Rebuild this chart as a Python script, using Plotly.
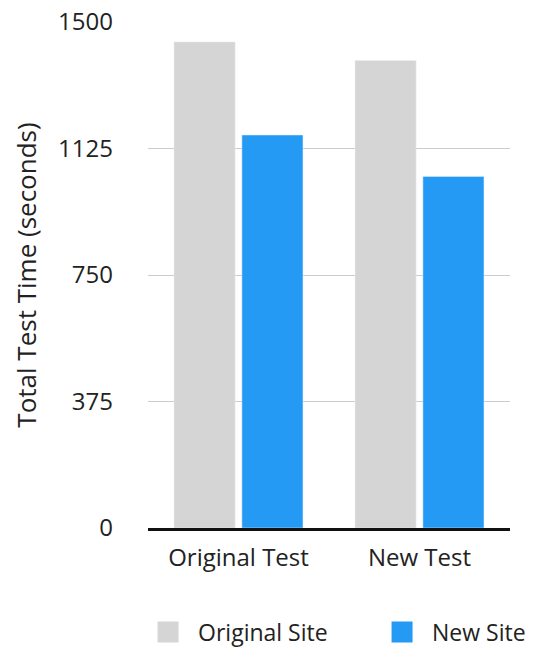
import plotly.graph_objects as go

categories = ["Original Test", "New Test"]
series_names = ["Original Site", "New Site"]
original_site = [1441, 1386]
new_site = [1165, 1042]
tick_values = [0, 375, 750, 1125, 1500]
tick_labels = ["0", "375", "750", "1125", "1500"]

colors = ["#D5D5D5", "#259AF5"]
FONT = "'Open Sans', sans-serif"

fig = go.Figure()
for name, vals, c in zip(series_names, [original_site, new_site], colors):
    fig.add_trace(go.Bar(x=categories, y=vals, name=name, marker_color=c,
                         showlegend=False))
# legend entries with large square swatches
for name, c in zip(series_names, colors):
    fig.add_trace(go.Scatter(x=[None], y=[None], mode="markers", name=name,
                             marker=dict(symbol="square", size=24, color=c,
                                         line=dict(color=c, width=5)),
                             showlegend=True))

# page body has an 8px margin, so the figure is sized/offset to compensate
fig.update_layout(
    width=529, height=640,
    margin=dict(l=140, r=27, t=14, b=120, autoexpand=False),
    paper_bgcolor="white", plot_bgcolor="white",
    barmode="group", bargap=0.25, bargroupgap=0.1,
    font=dict(family=FONT, size=24, color="#222222"),
    legend=dict(orientation="h", x=-0.0275, xanchor="left", y=-0.2055,
                yanchor="middle", bgcolor="rgba(0,0,0,0)",
                font=dict(size=23), itemwidth=50, traceorder="normal",
                entrywidth=169, entrywidthmode="pixels"),
    xaxis=dict(showgrid=False, showline=True, linecolor="#111111", linewidth=3,
               ticks="", tickfont=dict(size=24), ticklabelstandoff=6,
               automargin=False),
    yaxis=dict(range=[0, 1500], tickvals=tick_values, ticktext=tick_labels,
               showgrid=True, gridcolor="#CCCCCC", gridwidth=1, zeroline=False,
               ticklabelstandoff=34, tickfont=dict(size=24), automargin=False,
               ticklabeloverflow="allow",
               title=dict(text="Total Test Time (seconds)", font=dict(size=26),
                          standoff=24)),
)

fig.write_html("out.html")
